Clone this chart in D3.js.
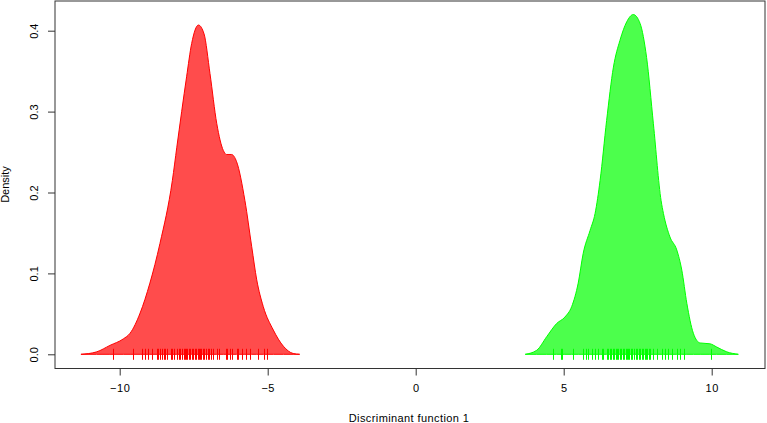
<!DOCTYPE html>
<html><head><meta charset="utf-8">
<script src="https://cdn.jsdelivr.net/npm/d3@7"></script>
<style>body{margin:0;background:#fff}svg{display:block}text{font-family:"Liberation Sans",Arial,sans-serif;font-size:11px;fill:#000}</style>
</head><body>
<svg id="c" width="767" height="423"></svg>
<script>
// density curve for group 1 (red)
const redX = [-11.31,-10.78,-10.33,-9.88,-9.65,-9.31,-8.98,-8.64,-8.22,-8.07,-7.74,-7.57,-7.34,-7.15,-6.95,-6.72,-6.50,-6.39,-6.22,-6.05,-5.77,-5.54,-5.37,-5.15,-4.81,-4.47,-4.14,-3.92];
const redY = [0,0.003,0.011,0.019,0.026,0.051,0.088,0.137,0.215,0.256,0.343,0.384,0.407,0.396,0.347,0.285,0.252,0.247,0.247,0.238,0.190,0.133,0.092,0.059,0.030,0.010,0.001,0];
// density curve for group 2 (green)
const greenX = [3.70,4.09,4.43,4.76,5.04,5.27,5.49,5.66,5.89,6.06,6.23,6.45,6.68,6.90,7.13,7.35,7.58,7.80,8.03,8.29,8.37,8.59,8.82,8.99,9.16,9.38,9.61,9.94,10.17,10.51,10.90];
const greenY = [0,0.005,0.022,0.038,0.046,0.059,0.088,0.125,0.153,0.174,0.215,0.289,0.355,0.388,0.411,0.420,0.409,0.367,0.285,0.190,0.174,0.145,0.129,0.104,0.063,0.026,0.014,0.013,0.009,0.003,0];
// rug values
const redRug = [-10.22,-9.56,-9.26,-9.15,-9.03,-8.90,-8.73,-8.69,-8.64,-8.57,-8.52,-8.47,-8.39,-8.28,-8.23,-8.15,-8.05,-8.00,-7.95,-7.90,-7.84,-7.79,-7.76,-7.71,-7.66,-7.61,-7.56,-7.52,-7.47,-7.42,-7.37,-7.32,-7.29,-7.24,-7.19,-7.14,-7.08,-7.03,-6.98,-6.92,-6.85,-6.72,-6.64,-6.41,-6.36,-6.29,-6.21,-6.05,-6.00,-5.88,-5.73,-5.60,-5.32,-5.13,-5.01];
const greenRug = [4.65,4.90,4.95,5.32,5.66,5.74,5.83,5.95,6.06,6.15,6.28,6.34,6.45,6.50,6.55,6.60,6.65,6.70,6.75,6.80,6.83,6.89,6.94,6.99,7.04,7.09,7.14,7.17,7.22,7.27,7.32,7.38,7.43,7.48,7.53,7.58,7.63,7.68,7.73,7.78,7.83,7.88,7.93,8.03,8.14,8.31,8.42,8.53,8.65,8.82,8.94,9.07,9.98];
const xTicks = [-10,-5,0,5,10];
const yTicks = [0,0.1,0.2,0.3,0.4];
const xTitle = "Discriminant function 1";
const yTitle = "Density";

const svg = d3.select("#c");
const L = 55, R = 765, T = 1, B = 368;
const x = d3.scaleLinear().domain([0, 5]).range([415.7, 563.7]);
const y = d3.scaleLinear().domain([0, 0.4]).range([354.3, 30.7]);

const area = d3.area().x(d => x(d[0])).y0(y(0)).y1(d => y(d[1])).curve(d3.curveMonotoneX);

function group(xs, ys, rug, fill, stroke) {
  const pts = xs.map((v, i) => [v, ys[i]]);
  svg.append("path").attr("d", area(pts)).attr("fill", fill).attr("stroke", stroke).attr("stroke-width", 1);
  svg.append("g").selectAll("line").data(rug).join("line")
    .attr("x1", d => Math.round(x(d)) + 0.5).attr("x2", d => Math.round(x(d)) + 0.5)
    .attr("y1", y(0) - 5.5).attr("y2", y(0) + 5.5)
    .attr("stroke", stroke).attr("stroke-width", 1);
}
group(redX, redY, redRug, "rgba(255,0,0,0.7)", "#ff0000");
group(greenX, greenY, greenRug, "rgba(0,255,0,0.7)", "#00ff00");

// box
svg.append("rect").attr("x", L).attr("y", T).attr("width", R - L).attr("height", B - T + 0.5)
  .attr("fill", "none").attr("stroke", "#333").attr("stroke-width", 1);

// x axis
const xa = svg.append("g").attr("transform", `translate(0,${B + 0.5})`)
  .call(d3.axisBottom(x).tickValues(xTicks).tickSize(7).tickPadding(9).tickFormat(d3.format("d")));
xa.select(".domain").remove();
xa.selectAll("line").attr("stroke", "#333");
xa.selectAll("text").style("font-size", "11px").attr("font-family", null).attr("letter-spacing", "0.5px");

// y axis
const ya = svg.append("g").attr("transform", `translate(${L},0)`)
  .call(d3.axisLeft(y).tickValues(yTicks).tickSize(7).tickFormat(d3.format(".1f")));
ya.select(".domain").remove();
ya.selectAll("line").attr("stroke", "#333");
ya.selectAll("text").attr("x", null).attr("dy", null).attr("font-family", null)
  .attr("text-anchor", "middle")
  .attr("transform", "translate(-17,0) rotate(-90)")
  .style("font-size", "11px");

svg.append("text").attr("x", (L + R) / 2 - 1).attr("y", 422).attr("text-anchor", "middle")
  .attr("letter-spacing", "0.4px").text(xTitle);
svg.append("text").attr("transform", `translate(9,${(T + B) / 2}) rotate(-90)`).attr("text-anchor", "middle").text(yTitle);
</script>
</body></html>
